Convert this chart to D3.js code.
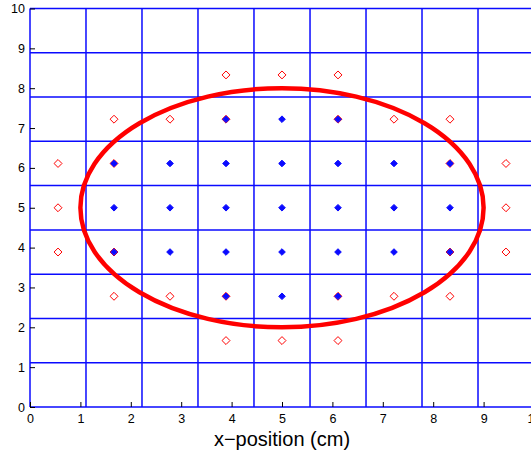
<!DOCTYPE html>
<html>
<head>
<meta charset="utf-8">
<script src="https://cdn.jsdelivr.net/npm/d3@7"></script>
<style>
  body { margin: 0; background: #fff; }
  svg { font-family: "Liberation Sans", Arial, sans-serif; }
</style>
</head>
<body>
<div id="chart"></div>
<script>
// axis ticks
var xTicks = [0, 1, 2, 3, 4, 5, 6, 7, 8, 9, 10];
var yTicks = [0, 1, 2, 3, 4, 5, 6, 7, 8, 9, 10];

// grid cell boundaries (10/9 cm spacing)
var gridLines = [0, 1.111, 2.222, 3.333, 4.444, 5.556, 6.667, 7.778, 8.889, 10];

// cell centres inside the ellipse (blue dots)
var blueX = [3.889, 5, 6.111,
             1.667, 2.778, 3.889, 5, 6.111, 7.222, 8.333,
             1.667, 2.778, 3.889, 5, 6.111, 7.222, 8.333,
             1.667, 2.778, 3.889, 5, 6.111, 7.222, 8.333,
             3.889, 5, 6.111];
var blueY = [7.222, 7.222, 7.222,
             6.111, 6.111, 6.111, 6.111, 6.111, 6.111, 6.111,
             5, 5, 5, 5, 5, 5, 5,
             3.889, 3.889, 3.889, 3.889, 3.889, 3.889, 3.889,
             2.778, 2.778, 2.778];

// cell centres near the boundary (red diamonds)
var redX = [3.889, 5, 6.111,
            1.667, 2.778, 3.889, 6.111, 7.222, 8.333,
            0.556, 1.667, 8.333, 9.444,
            0.556, 9.444,
            0.556, 1.667, 8.333, 9.444,
            1.667, 2.778, 3.889, 6.111, 7.222, 8.333,
            3.889, 5, 6.111];
var redY = [8.333, 8.333, 8.333,
            7.222, 7.222, 7.222, 7.222, 7.222, 7.222,
            6.111, 6.111, 6.111, 6.111,
            5, 5,
            3.889, 3.889, 3.889, 3.889,
            2.778, 2.778, 2.778, 2.778, 2.778, 2.778,
            1.667, 1.667, 1.667];

// ellipse: centre and semi-axes (cm)
var ellipseCenter = [5, 5];
var ellipseRadii = [4, 3];

var width = 531, height = 457;

var svg = d3.select("#chart").append("svg")
    .attr("width", width)
    .attr("height", height);

var x = d3.scaleLinear().domain([0, 10]).range([30, 534]);
var y = d3.scaleLinear().domain([0, 10]).range([407, 8.5]);

// grid
svg.append("g").selectAll("line.v")
    .data(gridLines)
    .enter().append("line")
    .attr("x1", d => x(d)).attr("x2", d => x(d))
    .attr("y1", y(0)).attr("y2", y(10))
    .attr("stroke", "#0a0aff")
    .attr("stroke-width", 1.5);

svg.append("g").selectAll("line.h")
    .data(gridLines)
    .enter().append("line")
    .attr("x1", x(0)).attr("x2", x(10))
    .attr("y1", d => y(d)).attr("y2", d => y(d))
    .attr("stroke", "#0a0aff")
    .attr("stroke-width", 1.5);

// axes, ticks pointing inward
var xAxis = svg.append("g")
    .attr("transform", "translate(0," + y(0) + ")")
    .call(d3.axisBottom(x).tickValues(xTicks).tickSizeInner(-5).tickSizeOuter(0).tickPadding(7));
var yAxis = svg.append("g")
    .attr("transform", "translate(" + x(0) + ",0)")
    .call(d3.axisLeft(y).tickValues(yTicks).tickSizeInner(-5).tickSizeOuter(0).tickPadding(5));

[xAxis, yAxis].forEach(function(a) {
  a.select(".domain").remove();
  a.selectAll(".tick line").attr("stroke", "#000").attr("stroke-width", 1);
  a.selectAll(".tick text").attr("fill", "#000").style("font-size", "12.5px");
});

svg.append("text")
    .attr("x", 282)
    .attr("y", 446)
    .attr("text-anchor", "middle")
    .style("font-size", "20px")
    .attr("fill", "#000")
    .text("x\u2212position (cm)");

// red open diamonds
var redPts = redX.map((d, i) => [d, redY[i]]);
svg.append("g").selectAll("path")
    .data(redPts)
    .enter().append("path")
    .attr("d", d3.symbol().type(d3.symbolDiamond2).size(40))
    .attr("transform", d => "translate(" + x(d[0]) + "," + y(d[1]) + ")")
    .attr("fill", "none")
    .attr("stroke", "#ff0000")
    .attr("stroke-width", 1);

// blue dots
var bluePts = blueX.map((d, i) => [d, blueY[i]]);
svg.append("g").selectAll("path")
    .data(bluePts)
    .enter().append("path")
    .attr("d", d3.symbol().type(d3.symbolDiamond2).size(28))
    .attr("transform", d => "translate(" + x(d[0]) + "," + y(d[1]) + ")")
    .attr("fill", "#0a0aff")
    .attr("stroke", "#0a0aff")
    .attr("stroke-width", 1);

// ellipse
svg.append("ellipse")
    .attr("cx", x(ellipseCenter[0]))
    .attr("cy", y(ellipseCenter[1]))
    .attr("rx", x(ellipseRadii[0]) - x(0))
    .attr("ry", y(0) - y(ellipseRadii[1]))
    .attr("fill", "none")
    .attr("stroke", "#ff0000")
    .attr("stroke-width", 4.5);
</script>
</body>
</html>
